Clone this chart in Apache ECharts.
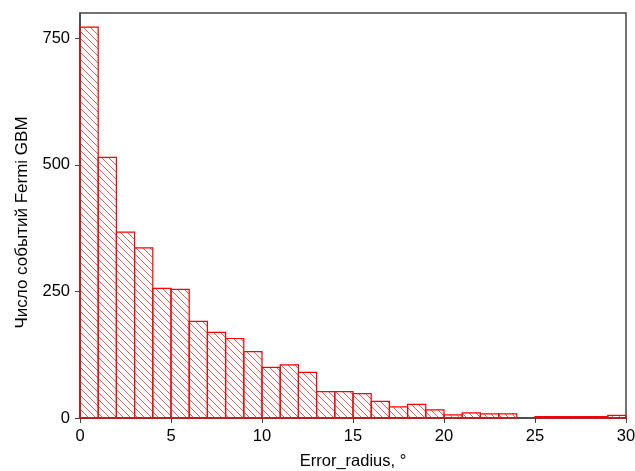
<!DOCTYPE html>
<html><head><meta charset="utf-8">
<script src="https://cdn.jsdelivr.net/npm/echarts@6/dist/echarts.min.js"></script>
<style>html,body{margin:0;padding:0;background:#fff}#c{width:635px;height:471px}</style>
</head><body><div id="c"></div>
<script>
// Histogram bins (width 1 degree) and counts
const binStarts = [0,1,2,3,4,5,6,7,8,9,10,11,12,13,14,15,16,17,18,19,20,21,22,23,24,25,26,27,28,29];
const counts = [772,515,367,336,256,254,191,169,157,131,100,105,90,52,52,48,33,22,27,16,6,10,8,8,0,3,3,3,3,5];
const xTicks = [0,5,10,15,20,25,30];
const yTicks = [0,250,500,750];
const xName = 'Error_radius, °';
const yName = 'Число событий Fermi GBM';

// hatch pattern
const pc = document.createElement('canvas');
const S = 7;
pc.width = S; pc.height = S;
const g = pc.getContext('2d');
g.strokeStyle = 'rgba(255,40,40,0.75)';
g.lineWidth = 1;
g.beginPath();
g.moveTo(-1, -1); g.lineTo(S + 1, S + 1);
g.moveTo(-1, S - 1); g.lineTo(1, S + 1);
g.moveTo(S - 1, -1); g.lineTo(S + 1, 1);
g.stroke();

const data = binStarts.map((s, i) => [s, s + 1, counts[i]]);
const chart = echarts.init(document.getElementById('c'), null, {renderer: 'canvas'});
const font = 'Liberation Sans, Arial, sans-serif';
chart.setOption({
  animation: false,
  grid: {left: 80, right: 9, top: 13, bottom: 53, show: true, borderColor: '#444', borderWidth: 1.5, backgroundColor: '#fff', containLabel: false, outerBoundsMode: 'none'},
  xAxis: {
    type: 'value', min: 0, max: 30, interval: 5,
    name: xName, nameLocation: 'middle', nameGap: 35,
    nameTextStyle: {fontFamily: font, fontSize: 16.5, color: '#000'},
    axisLine: {show: true, lineStyle: {color: '#444', width: 1.5}},
    axisTick: {show: true, length: 5, lineStyle: {color: '#444'}, customValues: xTicks},
    axisLabel: {fontFamily: font, fontSize: 16.5, color: '#000', margin: 10, customValues: xTicks},
    splitLine: {show: false}
  },
  yAxis: {
    type: 'value', min: 0, max: 800, interval: 250,
    name: yName, nameLocation: 'middle', nameGap: 49, nameRotate: 90,
    nameTextStyle: {fontFamily: font, fontSize: 17, color: '#000', padding: [0, 14, 0, 0]},
    axisLine: {show: true, lineStyle: {color: '#444', width: 1.5}},
    axisTick: {show: true, length: 5, lineStyle: {color: '#444'}, customValues: yTicks},
    axisLabel: {fontFamily: font, fontSize: 16.5, color: '#000', margin: 10, customValues: yTicks},
    splitLine: {show: false}
  },
  series: [{
    type: 'custom',
    data: data,
    encode: {x: [0, 1], y: 2},
    renderItem: function (params, api) {
      const v = api.value(2);
      if (!v) return null;
      const p0 = api.coord([api.value(0), 0]);
      const p1 = api.coord([api.value(1), v]);
      return {
        type: 'rect',
        shape: {x: p0[0], y: p1[1], width: p1[0] - p0[0], height: p0[1] - p1[1]},
        style: {fill: {image: pc, repeat: 'repeat'}, stroke: '#ff0000', lineWidth: 1.2}
      };
    }
  }]
});
</script></body></html>
